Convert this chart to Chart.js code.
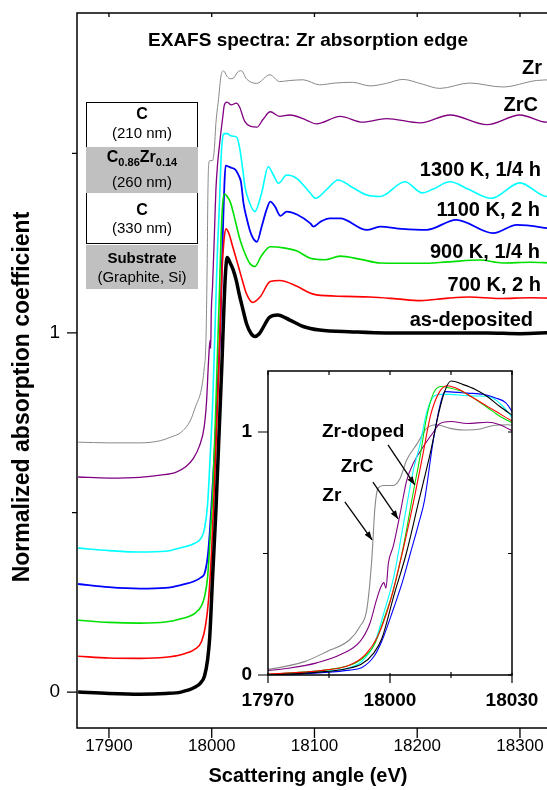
<!DOCTYPE html>
<html>
<head>
<meta charset="utf-8">
<script src="https://cdn.jsdelivr.net/npm/chart.js@4.4.1/dist/chart.umd.min.js"></script>
<style>
  html, body { margin: 0; padding: 0; background: #fff; overflow: hidden; }
  #wrap { position: relative; width: 547px; height: 790px; overflow: hidden; }
  #main { position: absolute; left: 0; top: 0; }
  #inset { position: absolute; left: 230px; top: 361px; }
  .stack { position: absolute; left: 86px; width: 112px; font-family: 'Liberation Sans', Arial, sans-serif; color: #000; }
  .stack div { position: absolute; left: 0; width: 100%; text-align: center; line-height: 18px; font-size: 15px; }
  .stack b { font-size: 16px; }
  .stack sub { font-size: 11px; font-weight: bold; vertical-align: -4px; }
  .grey { background: #c0c0c0; }
</style>
</head>
<body>
<div id="wrap">
  <canvas id="main" width="560" height="790"></canvas>
  <div class="stack" style="top:102px;height:142px;border:1px solid #000;box-sizing:border-box;">
    <div style="top:2px"><b>C</b></div>
    <div style="top:21px">(210 nm)</div>
    <div class="grey" style="top:44px;height:46px;left:-1px;width:112px;"></div>
    <div style="top:45px"><b>C</b><sub>0.86</sub><b>Zr</b><sub>0.14</sub></div>
    <div style="top:70px">(260 nm)</div>
    <div style="top:98px"><b>C</b></div>
    <div style="top:116px">(330 nm)</div>
  </div>
  <div class="stack grey" style="top:245px;height:44px;">
    <div style="top:4px"><b style="font-size:15px">Substrate</b></div>
    <div style="top:23px">(Graphite, Si)</div>
  </div>
  <canvas id="inset" width="317" height="360"></canvas>
</div>
<script>
// x ticks and y ticks
const xTicks = [17900, 18000, 18100, 18200, 18300];
const yTicks = [0, 0.5, 1, 1.5];
const yLabels = { 0: '0', 1: '1' };
const insetXTicks = [17970, 17985, 18000, 18015, 18030];
const insetXLabels = [17970, 18000, 18030];
const insetYTicks = [0, 0.5, 1];

const seriesNames = ['as-deposited', '700 K, 2 h', '900 K, 1/4 h', '1100 K, 2 h', '1300 K, 1/4 h', 'ZrC', 'Zr'];
const seriesOffsets = [0, 0.1, 0.2, 0.3, 0.4, 0.6, 0.7];
const seriesColors = ['#000000', '#ff0000', '#00e000', '#0000ff', '#00ffff', '#800080', '#888888'];
const seriesWidths = [3.5, 1.6, 1.6, 1.8, 1.6, 1.3, 1.0];

const asDepE = [17870, 17900, 17930, 17955, 17970, 17984, 17989, 17993, 17996, 17998, 18001, 18004, 18007, 18010, 18012, 18013.5, 18015, 18018, 18021, 18024, 18027, 18030, 18034, 18038, 18042, 18046, 18050, 18056, 18064, 18076, 18089, 18105, 18137, 18170, 18220, 18268, 18300, 18330];
const asDepMu = [0, -0.004, -0.006, -0.004, 0, 0.014, 0.025, 0.045, 0.09, 0.15, 0.33, 0.5, 0.71, 0.92, 1.08, 1.17, 1.21, 1.195, 1.175, 1.145, 1.105, 1.07, 1.025, 1.0, 0.99, 0.997, 1.015, 1.043, 1.05, 1.036, 1.018, 1.008, 1.003, 1.0, 1.0, 1.0, 0.998, 1.001];

const k700E = [17870, 17900, 17930, 17955, 17970, 17984, 17990, 17994, 17997, 18000, 18003, 18006, 18008, 18010, 18012, 18014, 18017, 18020, 18023, 18026, 18030, 18034, 18040, 18047, 18057, 18066, 18083, 18095, 18102, 18130, 18154, 18180, 18203, 18230, 18251, 18280, 18310, 18330];
const k700Mu = [0, -0.005, -0.006, -0.003, 0.004, 0.02, 0.04, 0.085, 0.16, 0.3, 0.5, 0.73, 0.9, 1.07, 1.16, 1.19, 1.175, 1.145, 1.115, 1.085, 1.045, 1.008, 0.985, 1.0, 1.043, 1.046, 1.03, 1.012, 1.006, 1.002, 1.0, 0.995, 0.99, 0.997, 1.0, 0.996, 0.998, 0.997];

const k900E = [17870, 17900, 17930, 17955, 17970, 17984, 17990, 17993, 17996, 17998.5, 18001, 18003.3, 18005.7, 18007.4, 18009, 18010.7, 18012.5, 18015, 18018, 18021, 18024, 18027, 18031, 18037, 18042, 18048, 18057, 18070, 18083, 18096, 18110, 18125, 18145, 18164, 18203, 18230, 18261, 18283, 18310, 18330];
const k900Mu = [0, -0.006, -0.008, -0.005, 0.004, 0.02, 0.04, 0.065, 0.12, 0.23, 0.36, 0.53, 0.75, 0.9, 1.06, 1.16, 1.187, 1.18, 1.165, 1.135, 1.1, 1.065, 1.031, 0.994, 0.985, 1.013, 1.04, 1.037, 1.028, 1.008, 1.004, 1.014, 1.005, 0.995, 0.994, 0.998, 1.003, 0.995, 0.997, 0.995];

const k1100E = [17870, 17900, 17930, 17955, 17970, 17984, 17990, 17993, 17996, 17998, 18001, 18003, 18005, 18007, 18008.5, 18010.5, 18012.3, 18013.5, 18015, 18019, 18023, 18026, 18028.5, 18031, 18034, 18037, 18040, 18044, 18048.6, 18053, 18057, 18061.6, 18067, 18073, 18083, 18096, 18099, 18106, 18115, 18125, 18151, 18164, 18185, 18209, 18238, 18274, 18297, 18326, 18330];
const k1100Mu = [0.001, -0.008, -0.012, -0.01, -0.002, 0.01, 0.02, 0.03, 0.075, 0.14, 0.28, 0.38, 0.5, 0.62, 0.72, 0.95, 1.11, 1.166, 1.165, 1.16, 1.155, 1.14, 1.12, 1.06, 1.02, 0.987, 0.965, 0.954, 0.996, 1.04, 1.066, 1.052, 1.026, 1.038, 1.03, 1.005, 0.996, 1.01, 1.019, 1.019, 0.987, 0.996, 0.99, 0.987, 1.015, 0.978, 1.001, 0.992, 0.99];

const k1300E = [17870, 17900, 17930, 17955, 17970, 17984, 17990, 17993, 17996, 17998.4, 18001, 18003.3, 18005.7, 18007.4, 18009, 18010.7, 18012.3, 18015, 18018, 18021, 18024.5, 18027.5, 18030, 18032.4, 18037, 18042, 18048.6, 18055, 18060, 18065, 18073, 18083, 18096, 18101, 18112, 18123, 18137, 18151, 18164, 18188, 18205, 18215, 18232, 18250, 18272, 18300, 18326, 18330];
const k1300Mu = [0.001, -0.006, -0.01, -0.008, 0.002, 0.015, 0.03, 0.055, 0.123, 0.25, 0.41, 0.62, 0.84, 0.95, 1.08, 1.145, 1.155, 1.155, 1.15, 1.148, 1.145, 1.11, 1.06, 1.007, 0.961, 0.938, 0.99, 1.063, 1.04, 1.017, 1.04, 1.03, 0.989, 0.975, 1.0, 1.026, 1.005, 0.984, 0.98, 1.021, 0.99, 1.0, 1.021, 1.0, 0.975, 1.018, 0.98, 0.98];

const zrcE = [17870, 17900, 17930, 17950, 17965, 17975, 17982, 17988, 17992.6, 17995, 17996.7, 17997.7, 17998.5, 17999, 17999.6, 18000.8, 18002.5, 18004.1, 18005.7, 18008.2, 18010.7, 18012.3, 18015, 18019, 18024, 18027, 18032, 18038, 18044, 18050, 18057, 18066, 18076, 18092, 18102, 18125, 18147, 18170, 18203, 18232, 18268, 18300, 18326, 18330];
const zrcMu = [-0.001, -0.004, -0.002, 0.004, 0.012, 0.028, 0.05, 0.085, 0.137, 0.21, 0.31, 0.36, 0.38, 0.357, 0.46, 0.53, 0.665, 0.8, 0.87, 0.94, 1.0, 1.035, 1.043, 1.035, 1.04, 1.03, 0.99, 0.975, 0.973, 0.995, 1.016, 1.003, 1.007, 0.993, 0.982, 1.003, 0.987, 0.997, 0.985, 1.007, 0.98, 1.007, 0.987, 0.987];

const zrE = [17870, 17900, 17930, 17950, 17960, 17970, 17979, 17984.4, 17990, 17992.6, 17994.3, 17995.5, 17996.3, 17997.1, 17998.4, 18000.8, 18002.5, 18004.1, 18006.6, 18009, 18011.5, 18014.8, 18018, 18021.3, 18025.4, 18029, 18034, 18043.7, 18056.7, 18066, 18076, 18089, 18105, 18120, 18137, 18154, 18170, 18186, 18205, 18222, 18251, 18283, 18316, 18330];
const zrMu = [-0.004, -0.006, -0.006, 0, 0.01, 0.023, 0.055, 0.096, 0.144, 0.2, 0.27, 0.47, 0.69, 0.77, 0.78, 0.78, 0.81, 0.885, 0.95, 1.015, 1.03, 1.015, 1.008, 1.01, 1.027, 1.03, 1.007, 0.995, 1.019, 1.0, 1.003, 1.005, 0.991, 0.996, 0.998, 0.988, 0.995, 1.006, 0.993, 0.981, 0.996, 0.985, 1.003, 1.005];

const seriesE = [asDepE, k700E, k900E, k1100E, k1300E, zrcE, zrE];
const seriesMu = [asDepMu, k700Mu, k900Mu, k1100Mu, k1300Mu, zrcMu, zrMu];

const insetNotes = ['Zr-doped', 'ZrC', 'Zr'];

const FONT = "'Liberation Sans', Arial, sans-serif";

function makeDatasets(withOffset, inset) {
  return seriesNames.map((name, i) => ({
    label: name,
    data: seriesE[i].map((e, j) => ({ x: e, y: seriesMu[i][j] + (withOffset ? seriesOffsets[i] : 0) })),
    borderColor: seriesColors[i],
    borderWidth: inset ? 1.1 : seriesWidths[i],
    pointRadius: 0,
    fill: false,
    cubicInterpolationMode: 'monotone'
  }));
}

// fixed axis box, no extra label padding from chart.js
function fixBox(size, horizontal) {
  return s => {
    if (horizontal) s.height = size; else s.width = size;
    s.paddingTop = 0; s.paddingBottom = 0; s.paddingLeft = 0; s.paddingRight = 0;
  };
}

function tick(ctx, x1, y1, x2, y2) { ctx.moveTo(x1, y1); ctx.lineTo(x2, y2); }

const mainDecor = {
  id: 'mainDecor',
  afterDraw(chart) {
    const { ctx, chartArea: a, scales: { x, y } } = chart;
    ctx.save();
    ctx.strokeStyle = '#000';
    ctx.lineWidth = 1.5;
    ctx.strokeRect(a.left, a.top, a.right - a.left, a.bottom - a.top);
    ctx.lineWidth = 1.3;
    ctx.beginPath();
    xTicks.forEach(v => {
      const px = x.getPixelForValue(v);
      tick(ctx, px, a.bottom, px, a.bottom + 10);
      tick(ctx, px, a.top, px, a.top + 4);
    });
    yTicks.forEach(v => {
      const py = y.getPixelForValue(v);
      tick(ctx, a.left - (yLabels[v] ? 10 : 5), py, a.left, py);
    });
    ctx.stroke();

    ctx.fillStyle = '#000';
    ctx.textBaseline = 'middle';
    ctx.textAlign = 'center';
    ctx.font = 'bold 19px ' + FONT;
    ctx.fillText('EXAFS spectra: Zr absorption edge', 308, 41);
    ctx.font = 'bold 20px ' + FONT;
    ctx.fillText('Scattering angle (eV)', 308, 776);
    ctx.save();
    ctx.translate(23, 397);
    ctx.rotate(-Math.PI / 2);
    ctx.font = 'bold 23px ' + FONT;
    ctx.fillText('Normalized absorption coefficient', 0, 0);
    ctx.restore();

    // curve labels, top to bottom
    ctx.textAlign = 'right';
    ctx.font = 'bold 20px ' + FONT;
    const labelPos = [[533, 320], [541, 285], [540, 252], [540, 210], [541, 170], [538, 105], [542, 68]];
    seriesNames.forEach((n, i) => ctx.fillText(n, labelPos[i][0], labelPos[i][1]));
    ctx.restore();
  }
};

function arrow(ctx, x1, y1, x2, y2) {
  const ang = Math.atan2(y2 - y1, x2 - x1);
  ctx.beginPath();
  ctx.moveTo(x1, y1);
  ctx.lineTo(x2, y2);
  ctx.stroke();
  ctx.beginPath();
  ctx.moveTo(x2, y2);
  ctx.lineTo(x2 - 9 * Math.cos(ang - 0.35), y2 - 9 * Math.sin(ang - 0.35));
  ctx.lineTo(x2 - 9 * Math.cos(ang + 0.35), y2 - 9 * Math.sin(ang + 0.35));
  ctx.closePath();
  ctx.fill();
}

const insetDecor = {
  id: 'insetDecor',
  beforeDatasetsDraw(chart) {
    const { ctx, chartArea: a } = chart;
    ctx.save();
    ctx.fillStyle = '#fff';
    ctx.fillRect(a.left, a.top, a.right - a.left, a.bottom - a.top);
    ctx.restore();
  },
  afterDraw(chart) {
    const { ctx, chartArea: a, scales: { x, y } } = chart;
    ctx.save();
    ctx.strokeStyle = '#000';
    ctx.fillStyle = '#000';
    ctx.lineWidth = 1.5;
    ctx.strokeRect(a.left, a.top, a.right - a.left, a.bottom - a.top);
    ctx.lineWidth = 1.2;
    ctx.beginPath();
    insetXTicks.forEach(v => {
      const px = x.getPixelForValue(v);
      if (insetXLabels.includes(v)) tick(ctx, px, a.bottom - 2, px, a.bottom + 8);
      else tick(ctx, px, a.bottom - 3, px, a.bottom + 3);
      tick(ctx, px, a.top, px, a.top + 4);
    });
    insetYTicks.forEach(v => {
      const py = y.getPixelForValue(v);
      tick(ctx, a.left - (v === 0.5 ? 5 : 10), py, a.left, py);
      tick(ctx, a.right - 4, py, a.right, py);
    });
    ctx.stroke();

    // arrows pointing at the edges
    ctx.lineWidth = 1.3;
    const arr = [[17999.5, 0.947, 18006.1, 0.782], [17995.8, 0.794, 18002.0, 0.642], [17988.9, 0.712, 17995.6, 0.556]];
    arr.forEach(p => arrow(ctx, x.getPixelForValue(p[0]), y.getPixelForValue(p[1]), x.getPixelForValue(p[2]), y.getPixelForValue(p[3])));
    ctx.font = 'bold 19px ' + FONT;
    ctx.textAlign = 'center';
    ctx.textBaseline = 'middle';
    const notePos = [[17993.4, 1.0], [17991.9, 0.856], [17985.7, 0.737]];
    insetNotes.forEach((t, i) => ctx.fillText(t, x.getPixelForValue(notePos[i][0]), y.getPixelForValue(notePos[i][1])));
    ctx.restore();
  }
};

Chart.defaults.font.family = FONT;
Chart.defaults.color = '#000';

new Chart(document.getElementById('main'), {
  type: 'line',
  data: { datasets: makeDatasets(true, false) },
  options: {
    responsive: false,
    animation: false,
    events: [],
    layout: { padding: { top: 13, right: 9, left: 0, bottom: 0 } },
    plugins: { legend: { display: false }, tooltip: { enabled: false } },
    scales: {
      x: {
        type: 'linear', min: 17868.9, max: 18330.2,
        grid: { display: false, drawTicks: false }, border: { display: false },
        afterBuildTicks: s => { s.ticks = xTicks.map(v => ({ value: v })); },
        afterFit: fixBox(62, true),
        ticks: { padding: 8, font: { size: 17 }, maxRotation: 0, autoSkip: false, callback: v => String(v) }
      },
      y: {
        type: 'linear', min: -0.1, max: 1.891,
        grid: { display: false, drawTicks: false }, border: { display: false },
        afterBuildTicks: s => { s.ticks = yTicks.map(v => ({ value: v })); },
        afterFit: fixBox(77, false),
        ticks: { padding: 17, font: { size: 19 }, autoSkip: false, callback: v => yLabels[v] || '' }
      }
    }
  },
  plugins: [mainDecor]
});

new Chart(document.getElementById('inset'), {
  type: 'line',
  data: { datasets: makeDatasets(false, true) },
  options: {
    responsive: false,
    animation: false,
    events: [],
    layout: { padding: { top: 10, right: 35, left: 0, bottom: 0 } },
    plugins: { legend: { display: false }, tooltip: { enabled: false } },
    scales: {
      x: {
        type: 'linear', min: 17970, max: 18030,
        grid: { display: false, drawTicks: false }, border: { display: false },
        afterBuildTicks: s => { s.ticks = insetXLabels.map(v => ({ value: v })); },
        afterFit: fixBox(46, true),
        ticks: { padding: 14, font: { size: 19, weight: 'bold' }, maxRotation: 0, autoSkip: false, callback: v => String(v) }
      },
      y: {
        type: 'linear', min: 0, max: 1.251,
        grid: { display: false, drawTicks: false }, border: { display: false },
        afterBuildTicks: s => { s.ticks = insetYTicks.map(v => ({ value: v })); },
        afterFit: fixBox(38, false),
        ticks: { padding: 16, font: { size: 19, weight: 'bold' }, autoSkip: false, callback: v => (v === 0.5 ? '' : String(v)) }
      }
    }
  },
  plugins: [insetDecor]
});
</script>
</body>
</html>
